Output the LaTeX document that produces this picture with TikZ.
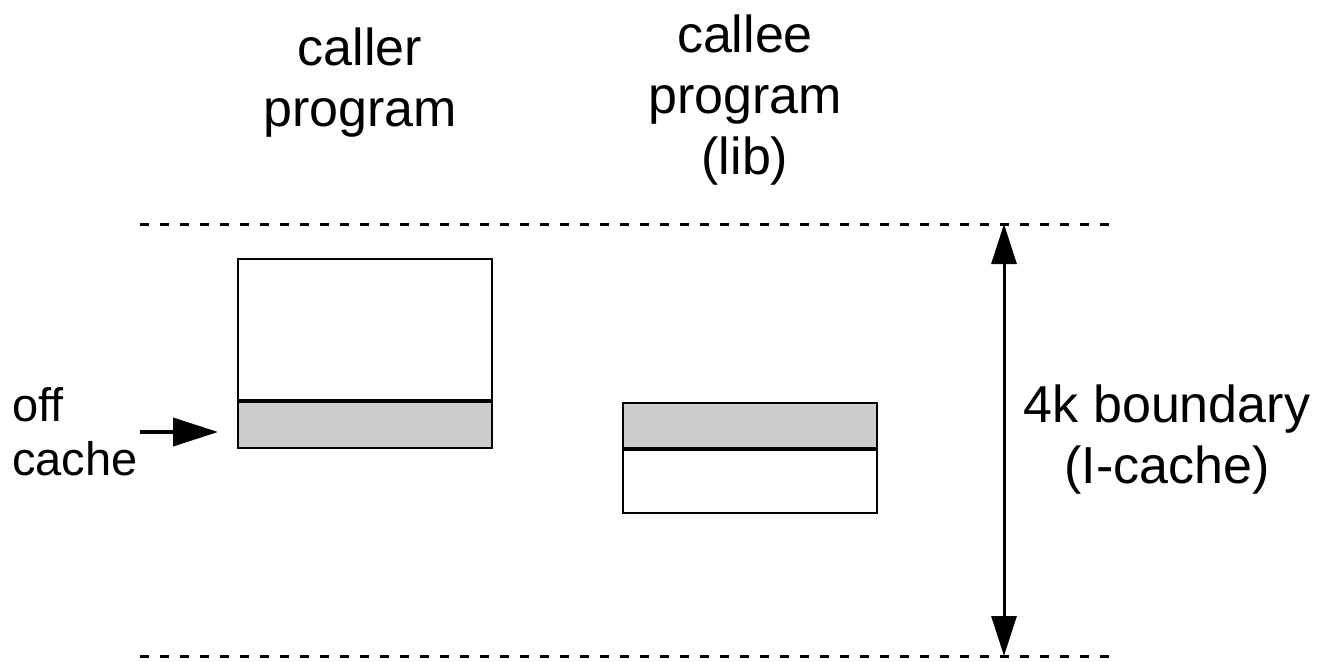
\documentclass[tikz,border=0pt]{standalone}
\usepackage{fontspec}
\setmainfont{Liberation Sans}
\usetikzlibrary{arrows.meta}
\begin{document}
\begin{tikzpicture}[x=1pt,y=-1pt,
  label/.style={inner sep=0pt,align=center,font=\fontsize{52}{61}\selectfont},
  block/.style={draw,line width=2pt,minimum width=254pt,inner sep=0pt,anchor=north west},
  hot/.style={block,fill=black!20},
  divider/.style={line width=4pt},
  bound/.style={line width=3pt,dash pattern=on 9pt off 11pt},
  bigarrow/.style={line width=4pt,-{Triangle[length=45pt,width=28pt]}},
  spanarrow/.style={line width=3pt,{Triangle[length=40pt,width=25pt]}-{Triangle[length=40pt,width=25pt]}}]
\useasboundingbox (0,0) rectangle (1324,661);

% column headings
\node[label] (caller) at (360,83) {caller\\program};
\node[label] (callee) at (745,100) {callee\\program\\(lib)};

% page boundaries
\coordinate (topL) at (140,224);
\coordinate (topR) at (1112,224);
\coordinate (botL) at (140,656);
\coordinate (botR) at (1112,656);
\draw[bound] (topL) -- (topR);
\draw[bound] (botL) -- (botR);

% caller code: cold part at the bottom
\node[block,minimum height=143pt] (callerA) at (237,258) {};
\node[hot,minimum height=46pt] (callerB) at (237,401) {};
\draw[divider] (callerB.north west) -- (callerB.north east);

% callee code: cold part at the top
\node[hot,minimum height=47pt] (calleeA) at (622,402) {};
\node[block,minimum height=63pt] (calleeB) at (622,449) {};
\draw[divider] (calleeB.north west) -- (calleeB.north east);

% off-cache marker
\node[label,align=left,anchor=west,font=\fontsize{47}{54}\selectfont] (off) at (12,432) {off\\cache};
\coordinate (offstart) at (140,432);
\coordinate (offend) at (218,432);
\draw[bigarrow] (offstart) -- (offend);

% 4k span
\coordinate (spanT) at (1004,224);
\coordinate (spanB) at (1004,656);
\draw[spanarrow] (spanT) -- (spanB);
\node[label] (span) at (1167,440) {4k boundary\\(I-cache)};
\end{tikzpicture}
\end{document}
